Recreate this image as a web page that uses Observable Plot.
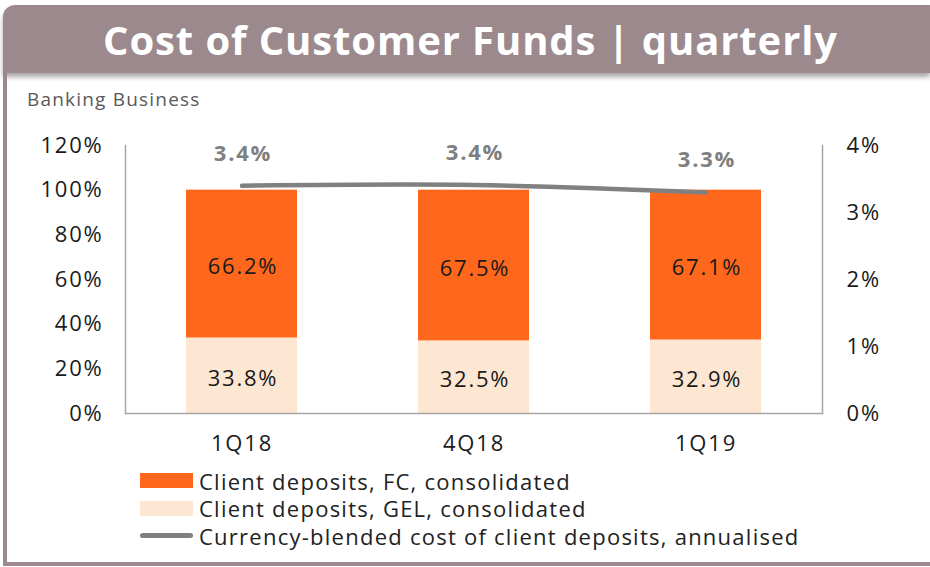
<!DOCTYPE html>
<html>
<head>
<meta charset="utf-8">
<script src="https://cdn.jsdelivr.net/npm/d3@7"></script>
<script src="https://cdn.jsdelivr.net/npm/@observablehq/plot@0.6"></script>
<style>
  html, body { margin: 0; padding: 0; background: #fff; }
  body { width: 930px; height: 567px; position: relative; overflow: hidden; font-family: "Open Sans", Lato, sans-serif; }
  #banner { position: absolute; left: 3px; top: 5px; width: 927px; height: 68px; background: #9b898d;
    border-top-left-radius: 12px; box-shadow: 0 4px 5px rgba(0,0,0,0.35); color: #fff;
    font-weight: 700; font-size: 40px; text-align: center; line-height: 70px; letter-spacing: 0.9px; padding-left: 8px; box-sizing: border-box; }
  #leftline { position: absolute; left: 3px; top: 73px; width: 4px; height: 492px; background: #9b898d; }
  #bottomline { position: absolute; left: 3px; top: 562px; width: 927px; height: 4px; background: #9b898d; }
  #subtitle { position: absolute; left: 27px; top: 86px; font-size: 19px; letter-spacing: 1.2px; color: #595959; }
  #chart { position: absolute; left: 0; top: 120px; }
  #legend { position: absolute; left: 140px; top: 467px; font-size: 22px; letter-spacing: 1.25px; color: #222; }
  .row { height: 27.5px; display: flex; align-items: center; }
  .sw { width: 53px; height: 15px; margin-right: 6px; }
  .ln { width: 53px; height: 5px; border-radius: 3px; background: #808080; margin-right: 6px; }
</style>
</head>
<body>
<div id="banner">Cost of Customer Funds | quarterly</div>
<div id="leftline"></div>
<div id="bottomline"></div>
<div id="subtitle">Banking Business</div>
<div id="chart"></div>
<div id="legend"></div>
<script>
const quarters = ["1Q18", "4Q18", "1Q19"];
const gelShare = [33.8, 32.5, 32.9];
const fcShare = [66.2, 67.5, 67.1];
const blendedCost = [3.40, 3.41, 3.30];
const leftTicks = [0, 20, 40, 60, 80, 100, 120];
const rightTicks = [0, 1, 2, 3, 4];
const seriesNames = ["Client deposits, GEL, consolidated", "Client deposits, FC, consolidated"];
const lineName = "Currency-blended cost of client deposits, annualised";
const colors = {GEL: "#fde7d3", FC: "#ff681c"};
const rightScale = 120 / 4; // 4% on right axis aligns with 120% on left

const bars = [];
quarters.forEach((q, i) => {
  bars.push({quarter: q, series: "GEL", value: gelShare[i]});
  bars.push({quarter: q, series: "FC", value: fcShare[i]});
});
const costs = quarters.map((q, i) => ({quarter: q, cost: blendedCost[i]}));

const font = "'Open Sans', Lato, sans-serif";
const chart = Plot.plot({
  width: 930,
  height: 340,
  marginTop: 25,
  marginBottom: 47,
  marginLeft: 125,
  marginRight: 108,
  style: {fontFamily: font, fontSize: "22px", letterSpacing: "1.8px", color: "#222", background: "transparent"},
  x: {domain: quarters, paddingInner: 0.52, paddingOuter: 0.26, label: null},
  y: {domain: [0, 120], label: null},
  color: {domain: ["GEL", "FC"], range: [colors.GEL, colors.FC]},
  marks: [
    Plot.barY(bars, {x: "quarter", y: "value", fill: "series", order: ["GEL", "FC"]}),
    Plot.text(bars, Plot.stackY({x: "quarter", y: "value", z: "series", order: ["GEL", "FC"],
      text: d => d.value.toFixed(1) + "%", fill: "#1a1a1a", fontSize: 22, dy: 3, dx: 1})),
    Plot.frame({anchor: "left", stroke: "#a6a6a6", strokeWidth: 1.5}),
    Plot.frame({anchor: "right", stroke: "#a6a6a6", strokeWidth: 1.5}),
    Plot.frame({anchor: "bottom", stroke: "#a6a6a6", strokeWidth: 1.5}),
    Plot.line(costs, {x: "quarter", y: d => d.cost * rightScale, stroke: "#808080", strokeWidth: 4.5,
      curve: "catmull-rom", strokeLinecap: "round"}),
    Plot.text(costs, {x: "quarter", y: d => d.cost * rightScale, text: d => d.cost.toFixed(1) + "%",
      dy: -32, dx: 1, fill: "#7f7f7f", fontWeight: "bold", fontSize: 22}),
    Plot.axisY(leftTicks, {anchor: "left", tickSize: 0, tickPadding: 22, tickFormat: d => d + "%", fontSize: 22, fill: "#1a1a1a"}),
    Plot.axisY(rightTicks.map(d => d * rightScale), {anchor: "right", tickSize: 0, tickPadding: 24,
      tickFormat: d => Math.round(d / rightScale) + "%", fontSize: 22, fill: "#1a1a1a"}),
    Plot.axisX({anchor: "bottom", tickSize: 0, tickPadding: 22, fontSize: 22, fill: "#1a1a1a", label: null})
  ]
});
document.getElementById("chart").appendChild(chart);

const legend = document.getElementById("legend");
[["FC", seriesNames[1]], ["GEL", seriesNames[0]]].forEach(([k, name]) => {
  const r = document.createElement("div"); r.className = "row";
  const s = document.createElement("div"); s.className = "sw"; s.style.background = colors[k];
  r.appendChild(s); r.appendChild(document.createTextNode(name)); legend.appendChild(r);
});
{
  const r = document.createElement("div"); r.className = "row";
  const s = document.createElement("div"); s.className = "ln";
  r.appendChild(s); r.appendChild(document.createTextNode(lineName)); legend.appendChild(r);
}
</script>
</body>
</html>
